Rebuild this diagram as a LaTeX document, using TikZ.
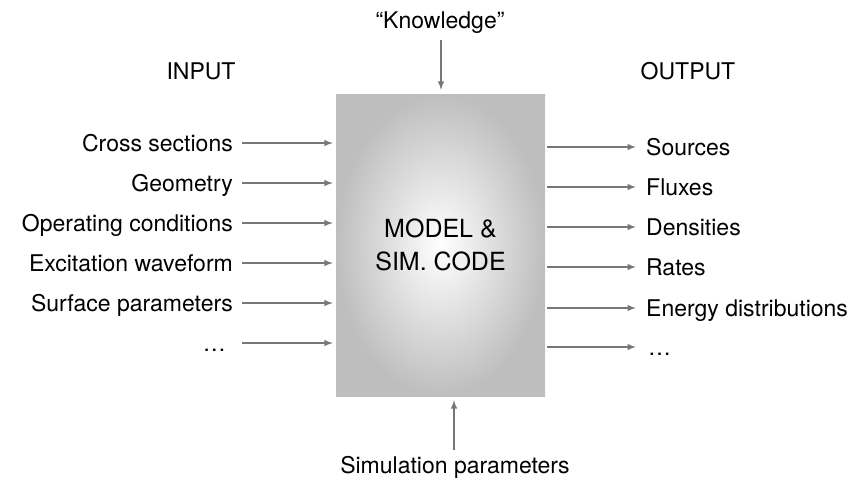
\documentclass[tikz,border=0pt]{standalone}
\usepackage{fontspec}
\setmainfont{TeX Gyre Heros}
\definecolor{arrowgray}{HTML}{76767B}
\definecolor{boxgray}{HTML}{BEBEBE}

\begin{document}
\begin{tikzpicture}[x=1pt, y=-1pt, line join=bevel,
>=latex,
font=\fontsize{23}{27}\selectfont,
lbl/.style={inner sep=0pt, text height=16.5pt, text depth=0pt},
flow/.style={->, draw=arrowgray, line width=1.9pt},
]
\useasboundingbox (0,0) rectangle (855,482);

\node[inner sep=0pt, minimum width=209pt, minimum height=302pt,
  inner color=white, outer color=boxgray, align=center,
  font=\fontsize{25}{33}\selectfont] (code) at (440.5,245) {MODEL \&\\SIM. CODE};

\node[lbl](in) at (201,71) {INPUT};
\node[lbl](out) at (688,71) {OUTPUT};
\node[lbl](know) at (440,20) {``Knowledge''};
\node[lbl](sim) at (455,465) {Simulation parameters};

% inputs
\node[lbl, anchor=east](xs) at (233,143) {Cross sections};
\node[lbl, anchor=east](geo) at (233,183) {Geometry};
\node[lbl, anchor=east](opc) at (233,223) {Operating conditions};
\node[lbl, anchor=east](exc) at (233,263) {Excitation waveform};
\node[lbl, anchor=east](surf) at (233,303) {Surface parameters};
\node[lbl, anchor=east](inx) at (226,343) {\dots};

% outputs
\node[lbl, anchor=west](src) at (646,147) {Sources};
\node[lbl, anchor=west](flx) at (646,187) {Fluxes};
\node[lbl, anchor=west](den) at (646,227) {Densities};
\node[lbl, anchor=west](rat) at (646,267) {Rates};
\node[lbl, anchor=west](edf) at (646,308) {Energy distributions};
\node[lbl, anchor=west](outx) at (648,347) {\dots};

\draw[flow, shorten <=9pt, shorten >=3pt] (xs.east) -- (xs.east -| code.west);
\draw[flow, shorten <=9pt, shorten >=3pt] (geo.east) -- (geo.east -| code.west);
\draw[flow, shorten <=9pt, shorten >=3pt] (opc.east) -- (opc.east -| code.west);
\draw[flow, shorten <=9pt, shorten >=3pt] (exc.east) -- (exc.east -| code.west);
\draw[flow, shorten <=9pt, shorten >=3pt] (surf.east) -- (surf.east -| code.west);
\draw[flow, shorten <=16pt, shorten >=3pt] (inx.east) -- (inx.east -| code.west);

\draw[flow, shorten <=2pt, shorten >=10pt] (src.west -| code.east) -- (src.west);
\draw[flow, shorten <=2pt, shorten >=10pt] (flx.west -| code.east) -- (flx.west);
\draw[flow, shorten <=2pt, shorten >=10pt] (den.west -| code.east) -- (den.west);
\draw[flow, shorten <=2pt, shorten >=10pt] (rat.west -| code.east) -- (rat.west);
\draw[flow, shorten <=2pt, shorten >=10pt] (edf.west -| code.east) -- (edf.west);
\draw[flow, shorten <=2pt, shorten >=12pt] (outx.west -| code.east) -- (outx.west);

\draw[flow, shorten <=12pt, shorten >=4pt] (know.south) ++(1,0) -- (code.north -| 441,0);
\draw[flow, shorten <=7pt, shorten >=4pt] (sim.north -| 454,0) -- (code.south -| 454,0);
\end{tikzpicture}
\end{document}
